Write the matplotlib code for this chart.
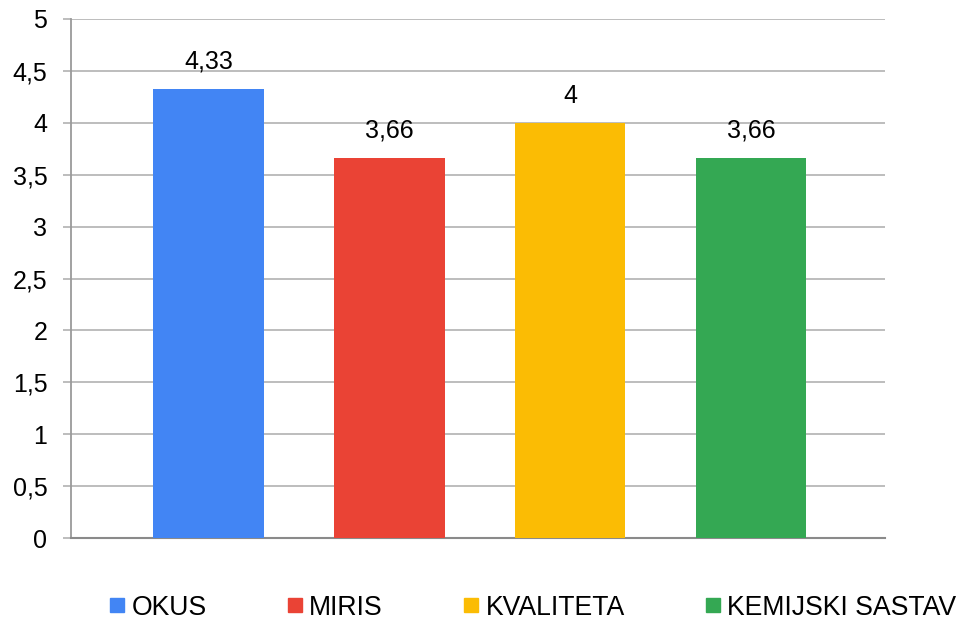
import matplotlib
matplotlib.use("Agg")
import matplotlib.pyplot as plt
from matplotlib.lines import Line2D

categories = ["OKUS", "MIRIS", "KVALITETA", "KEMIJSKI SASTAV"]
values = [4.33, 3.66, 4.0, 3.66]
value_labels = ["4,33", "3,66", "4", "3,66"]
colors = ["#4285F4", "#EA4335", "#FBBC04", "#34A853"]
yticks = [0, 0.5, 1, 1.5, 2, 2.5, 3, 3.5, 4, 4.5, 5]
ytick_labels = ["0", "0,5", "1", "1,5", "2", "2,5", "3", "3,5", "4", "4,5", "5"]

plt.rcParams['font.family'] = ['Liberation Sans', 'DejaVu Sans']

fig = plt.figure(figsize=(9.59, 6.24), dpi=100)
ax = fig.add_axes([71/959, 1-538/624, (885-71)/959, (538-19)/624])

x = list(range(len(categories)))
bars = ax.bar(x, values, width=0.61, color=colors, zorder=3)
for xi, v, lab in zip(x, values, value_labels):
    ax.annotate(lab, (xi, v), xytext=(0, 11), textcoords="offset points",
                ha="center", va="bottom", fontsize=18, color="#000000")

ax.set_xlim(-0.76, 3.74)
ax.set_ylim(0, 5)
ax.set_yticks(yticks)
ax.set_yticklabels(ytick_labels, fontsize=18)
ax.set_xticks([])
ax.grid(axis="y", color="#b7b7b7", linewidth=1.3, zorder=0)
ax.tick_params(axis="y", length=6, width=1.3, color="#b7b7b7", pad=11)
for s in ["top", "right"]:
    ax.spines[s].set_visible(False)
ax.spines["left"].set_color("#9a9a9a")
ax.spines["left"].set_linewidth(1.3)
ax.spines["bottom"].set_color("#8a8a8a")
ax.spines["bottom"].set_linewidth(1.5)

handles = [Line2D([], [], marker="s", linestyle="none", markersize=10.5,
                  markerfacecolor=c, markeredgecolor=c) for c in colors]
fig.legend(handles, categories, loc="center", bbox_to_anchor=(0.556, 0.026),
           ncol=4, frameon=False, fontsize=19.2, handlelength=0.55,
           handletextpad=0.25, columnspacing=3.05, borderaxespad=0)

fig.savefig("out.png", dpi=100)
